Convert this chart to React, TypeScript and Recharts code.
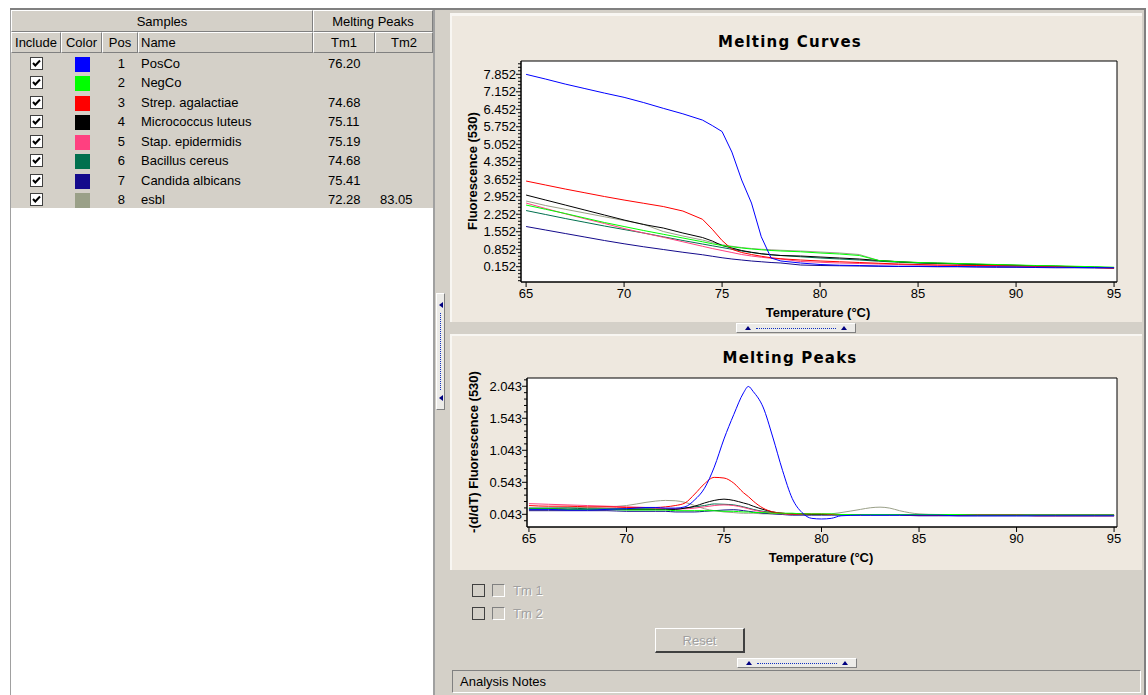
import React from "react";
import { LineChart, Line, XAxis, YAxis, CartesianGrid, ReferenceArea } from "recharts";

// ── sample table ──
const SAMPLE_POS = [1, 2, 3, 4, 5, 6, 7, 8];
const SAMPLE_NAMES = ["PosCo", "NegCo", "Strep. agalactiae", "Micrococcus luteus", "Stap. epidermidis", "Bacillus cereus", "Candida albicans", "esbl"];
const SAMPLE_COLORS = ["#0000ff", "#00ff00", "#ff0000", "#000000", "#ff4080", "#00704e", "#140a8c", "#9aa088"];
const TM1 = ["76.20", "", "74.68", "75.11", "75.19", "74.68", "75.41", "72.28"];
const TM2 = ["", "", "", "", "", "", "", "83.05"];

// ── melting curves (fluorescence 530) ──
const CURVE_TEMPS = [65, 66, 67, 68, 69, 70, 71, 72, 73, 74, 74.5, 75, 75.5, 76, 76.5, 77, 77.5, 78, 79, 80, 81, 82, 83, 84, 85, 86, 87, 88, 89, 90, 91, 92, 93, 94, 95];
const CURVE_POSCO = [7.85, 7.66, 7.46, 7.28, 7.10, 6.93, 6.72, 6.49, 6.27, 6.02, 5.80, 5.56, 4.74, 3.62, 2.70, 1.35, 0.50, 0.38, 0.30, 0.24, 0.21, 0.20, 0.18, 0.17, 0.17, 0.16, 0.16, 0.15, 0.15, 0.14, 0.13, 0.13, 0.12, 0.12, 0.11];
const CURVE_NEGCO = [2.62, 2.45, 2.28, 2.10, 1.92, 1.76, 1.60, 1.45, 1.30, 1.15, 1.07, 1.00, 0.95, 0.90, 0.86, 0.83, 0.80, 0.78, 0.75, 0.70, 0.66, 0.60, 0.40, 0.35, 0.32, 0.30, 0.28, 0.26, 0.24, 0.22, 0.20, 0.19, 0.17, 0.15, 0.13];
const CURVE_STREP = [3.58, 3.42, 3.26, 3.11, 2.96, 2.82, 2.69, 2.56, 2.38, 2.05, 1.65, 1.20, 0.85, 0.72, 0.64, 0.57, 0.51, 0.47, 0.42, 0.38, 0.35, 0.32, 0.29, 0.26, 0.24, 0.22, 0.21, 0.20, 0.19, 0.18, 0.17, 0.16, 0.14, 0.12, 0.10];
const CURVE_MICRO = [3.02, 2.82, 2.62, 2.42, 2.22, 2.02, 1.84, 1.70, 1.50, 1.32, 1.18, 1.00, 0.90, 0.80, 0.73, 0.67, 0.63, 0.60, 0.58, 0.54, 0.50, 0.46, 0.40, 0.35, 0.31, 0.29, 0.27, 0.25, 0.23, 0.21, 0.19, 0.17, 0.15, 0.13, 0.11];
const CURVE_STAP = [2.70, 2.48, 2.27, 2.07, 1.88, 1.68, 1.50, 1.33, 1.15, 0.97, 0.88, 0.80, 0.72, 0.64, 0.58, 0.53, 0.49, 0.46, 0.36, 0.33, 0.30, 0.28, 0.26, 0.24, 0.22, 0.21, 0.20, 0.19, 0.18, 0.17, 0.16, 0.15, 0.13, 0.12, 0.10];
const CURVE_BACIL = [2.40, 2.24, 2.08, 1.93, 1.78, 1.64, 1.50, 1.35, 1.20, 1.06, 0.99, 0.92, 0.85, 0.78, 0.72, 0.67, 0.63, 0.60, 0.55, 0.50, 0.46, 0.42, 0.37, 0.33, 0.30, 0.28, 0.26, 0.24, 0.22, 0.20, 0.19, 0.17, 0.15, 0.13, 0.11];
const CURVE_CANDI = [1.76, 1.62, 1.48, 1.34, 1.20, 1.07, 0.95, 0.84, 0.73, 0.63, 0.57, 0.51, 0.46, 0.42, 0.38, 0.35, 0.32, 0.30, 0.22, 0.20, 0.19, 0.18, 0.17, 0.16, 0.16, 0.15, 0.15, 0.14, 0.13, 0.13, 0.12, 0.11, 0.11, 0.10, 0.09];
const CURVE_ESBL = [2.78, 2.60, 2.45, 2.30, 2.15, 2.00, 1.85, 1.56, 1.38, 1.22, 1.12, 1.03, 0.97, 0.92, 0.88, 0.85, 0.83, 0.81, 0.78, 0.74, 0.70, 0.64, 0.40, 0.36, 0.32, 0.30, 0.28, 0.22, 0.20, 0.19, 0.18, 0.17, 0.16, 0.14, 0.12];

// ── melting peaks (-d/dT) ──
const PEAK_TEMPS = [65, 66, 67, 68, 69, 70, 71, 71.5, 72, 72.5, 73, 73.5, 74, 74.5, 75, 75.5, 76, 76.25, 76.5, 77, 77.5, 78, 78.5, 79, 79.5, 80, 80.5, 81, 82, 82.5, 83, 83.5, 84, 85, 86, 87, 88, 89, 90, 91, 92, 93, 94, 95];
const PEAK_POSCO = [0.12, 0.12, 0.11, 0.11, 0.12, 0.13, 0.15, 0.15, 0.14, 0.14, 0.16, 0.27, 0.45, 0.78, 1.22, 1.60, 1.94, 2.04, 1.96, 1.72, 1.25, 0.73, 0.29, 0.07, -0.02, -0.03, -0.02, 0.02, 0.03, 0.03, 0.03, 0.03, 0.03, 0.03, 0.03, 0.02, 0.02, 0.02, 0.02, 0.02, 0.02, 0.02, 0.02, 0.02];
const PEAK_NEGCO = [0.13, 0.13, 0.12, 0.12, 0.12, 0.11, 0.11, 0.11, 0.11, 0.10, 0.10, 0.10, 0.10, 0.10, 0.09, 0.09, 0.08, 0.08, 0.07, 0.07, 0.06, 0.06, 0.06, 0.05, 0.05, 0.05, 0.05, 0.04, 0.04, 0.04, 0.04, 0.04, 0.04, 0.04, 0.04, 0.04, 0.03, 0.03, 0.03, 0.03, 0.03, 0.03, 0.03, 0.03];
const PEAK_STREP = [0.18, 0.17, 0.17, 0.16, 0.16, 0.15, 0.15, 0.15, 0.16, 0.18, 0.22, 0.36, 0.52, 0.62, 0.61, 0.53, 0.38, 0.32, 0.25, 0.14, 0.08, 0.06, 0.05, 0.05, 0.05, 0.05, 0.04, 0.04, 0.04, 0.04, 0.04, 0.04, 0.04, 0.03, 0.03, 0.03, 0.03, 0.03, 0.03, 0.02, 0.02, 0.02, 0.02, 0.02];
const PEAK_MICRO = [0.13, 0.13, 0.12, 0.12, 0.12, 0.12, 0.12, 0.12, 0.12, 0.12, 0.14, 0.17, 0.22, 0.26, 0.28, 0.26, 0.22, 0.20, 0.17, 0.12, 0.08, 0.06, 0.05, 0.05, 0.04, 0.04, 0.04, 0.04, 0.04, 0.04, 0.04, 0.04, 0.04, 0.03, 0.03, 0.03, 0.03, 0.03, 0.03, 0.03, 0.03, 0.03, 0.03, 0.03];
const PEAK_STAP = [0.21, 0.20, 0.19, 0.18, 0.17, 0.16, 0.15, 0.14, 0.13, 0.13, 0.13, 0.14, 0.16, 0.18, 0.19, 0.18, 0.15, 0.13, 0.11, 0.08, 0.06, 0.05, 0.04, 0.04, 0.04, 0.04, 0.04, 0.04, 0.04, 0.04, 0.04, 0.04, 0.04, 0.03, 0.03, 0.03, 0.03, 0.03, 0.03, 0.03, 0.03, 0.03, 0.03, 0.03];
const PEAK_BACIL = [0.14, 0.14, 0.14, 0.13, 0.13, 0.13, 0.13, 0.13, 0.13, 0.13, 0.14, 0.16, 0.18, 0.205, 0.20, 0.19, 0.16, 0.14, 0.12, 0.09, 0.07, 0.05, 0.05, 0.04, 0.04, 0.04, 0.04, 0.04, 0.04, 0.04, 0.04, 0.04, 0.04, 0.03, 0.03, 0.03, 0.03, 0.03, 0.03, 0.03, 0.03, 0.03, 0.03, 0.03];
const PEAK_CANDI = [0.10, 0.10, 0.10, 0.10, 0.10, 0.09, 0.09, 0.09, 0.09, 0.08, 0.08, 0.08, 0.09, 0.10, 0.11, 0.115, 0.10, 0.09, 0.08, 0.06, 0.05, 0.04, 0.03, 0.03, 0.03, 0.03, 0.03, 0.03, 0.03, 0.03, 0.03, 0.03, 0.03, 0.02, 0.02, 0.02, 0.02, 0.02, 0.02, 0.02, 0.02, 0.02, 0.02, 0.02];
const PEAK_ESBL = [0.14, 0.14, 0.15, 0.15, 0.16, 0.18, 0.23, 0.25, 0.26, 0.255, 0.23, 0.18, 0.13, 0.10, 0.08, 0.07, 0.06, 0.06, 0.06, 0.05, 0.05, 0.05, 0.05, 0.05, 0.04, 0.04, 0.05, 0.07, 0.12, 0.145, 0.155, 0.14, 0.10, 0.05, 0.04, 0.04, 0.03, 0.03, 0.03, 0.03, 0.03, 0.03, 0.03, 0.03];

const X_TICKS = [65, 70, 75, 80, 85, 90, 95];
const CURVE_Y_TICKS = [0.152, 0.852, 1.552, 2.252, 2.952, 3.652, 4.352, 5.052, 5.752, 6.452, 7.152, 7.852];
const PEAK_Y_TICKS = [0.043, 0.543, 1.043, 1.543, 2.043];

const CURVE_SERIES = [CURVE_POSCO, CURVE_NEGCO, CURVE_STREP, CURVE_MICRO, CURVE_STAP, CURVE_BACIL, CURVE_CANDI, CURVE_ESBL];
const PEAK_SERIES = [PEAK_POSCO, PEAK_NEGCO, PEAK_STREP, PEAK_MICRO, PEAK_STAP, PEAK_BACIL, PEAK_CANDI, PEAK_ESBL];

const curveRows = CURVE_TEMPS.map((t, i) => {
  const row: Record<string, number> = { t };
  CURVE_SERIES.forEach((s, k) => (row[`s${k}`] = s[i]));
  return row;
});
const peakRows = PEAK_TEMPS.map((t, i) => {
  const row: Record<string, number> = { t };
  PEAK_SERIES.forEach((s, k) => (row[`s${k}`] = s[i]));
  return row;
});

const FONT = "'Liberation Sans', Arial, sans-serif";
const TITLE_FONT = "'DejaVu Sans', Verdana, sans-serif";
const UI_GREY = "#d4d0c8";
const BEIGE = "#eee8df";

const raised = {
  borderTop: "1px solid #fff",
  borderLeft: "1px solid #fff",
  borderRight: "1px solid #808080",
  borderBottom: "1px solid #808080",
};

// major ticks plus minor subdivisions inside the domain (axis decoration only)
function withMinor(majors: number[], sub: number, lo: number, hi: number) {
  const step = (majors[1] - majors[0]) / sub;
  let v = majors[0];
  while (v - step >= lo) v -= step;
  const out: number[] = [];
  for (; v <= hi + 1e-9; v += step) out.push(Math.round(v * 10000) / 10000);
  return out;
}

function YTick(props: any) {
  const { x, y, payload, majors } = props;
  const major = majors.some((m: number) => Math.abs(m - payload.value) < 1e-4);
  return (
    <g>
      <line x1={x - (major ? 5 : 3)} x2={x} y1={y} y2={y} stroke="#000" />
      {major && (
        <text x={x - 5} y={y} dy="0.36em" textAnchor="end" fill="#000" fontSize={13} fontFamily={FONT}>
          {payload.value.toFixed(3)}
        </text>
      )}
    </g>
  );
}

interface ChartProps {
  rows: Record<string, number>[];
  top: number;
  height: number;
  marginTop: number;
  marginLeft: number;
  xDomain: [number, number];
  yDomain: [number, number];
  yMajors: number[];
  ySub: number;
  curve: "linear" | "monotone";
}

function MeltChart({ rows, top, height, marginTop, marginLeft, xDomain, yDomain, yMajors, ySub, curve }: ChartProps) {
  const yTicks = withMinor(yMajors, ySub, yDomain[0], yDomain[1]);
  const order = [7, 6, 5, 4, 3, 2, 1, 0];
  return (
    <div style={{ position: "absolute", left: 450, top }}>
      <LineChart width={687} height={height} data={rows} margin={{ top: marginTop, right: 20, bottom: 5, left: marginLeft }}>
        <CartesianGrid horizontal={false} vertical={false} fill="#fff" stroke="none" />
        <XAxis
          dataKey="t" type="number" domain={xDomain} ticks={X_TICKS} allowDataOverflow interval={0}
          height={30} tickSize={5} tickMargin={2} axisLine={{ stroke: "#000" }} tickLine={{ stroke: "#000" }}
          tick={{ fill: "#000", fontSize: 13, fontFamily: FONT }}
        />
        <YAxis
          type="number" domain={yDomain} ticks={yTicks} allowDataOverflow interval={0}
          width={60} tickSize={0} tickMargin={0} tickLine={false} axisLine={{ stroke: "#000" }}
          tick={<YTick majors={yMajors} />}
        />
        {order.map((k) => (
          <Line
            key={k} dataKey={`s${k}`} type={curve} stroke={SAMPLE_COLORS[k]} strokeWidth={1}
            dot={false} activeDot={false} isAnimationActive={false}
          />
        ))}
        {/* plot frame */}
        <ReferenceArea
          x1={xDomain[0]} x2={xDomain[1]} y1={yDomain[0]} y2={yDomain[1]}
          fill="none" fillOpacity={0} stroke="#000" strokeWidth={1} ifOverflow="visible"
        />
      </LineChart>
    </div>
  );
}

function Cell({ left, top, width, height, text, alignLeft }: any) {
  return (
    <div
      style={{
        position: "absolute", left, top, width, height, boxSizing: "border-box", ...raised,
        display: "flex", alignItems: "center", justifyContent: alignLeft ? "flex-start" : "center",
        paddingLeft: alignLeft ? 2 : 0, fontSize: 13,
      }}
    >
      {text}
    </div>
  );
}

function Check({ left, top }: { left: number; top: number }) {
  return (
    <svg style={{ position: "absolute", left, top }} width={13} height={13}>
      <rect x={0.5} y={0.5} width={12} height={12} fill="#fff" stroke="#404040" />
      <path d="M3 6 L5.3 8.5 L10 3.5" fill="none" stroke="#000" strokeWidth={2} />
    </svg>
  );
}

function Tri({ dir }: { dir: "up" | "left" }) {
  const s = dir === "up"
    ? { borderLeft: "3px solid transparent", borderRight: "3px solid transparent", borderBottom: "4px solid #000080" }
    : { borderTop: "3px solid transparent", borderBottom: "3px solid transparent", borderRight: "4px solid #000080" };
  return <div style={{ width: 0, height: 0, ...s }} />;
}

function HHandle({ left, top }: { left: number; top: number }) {
  return (
    <div
      style={{
        position: "absolute", left, top, width: 120, height: 10, boxSizing: "border-box", ...raised,
        background: "#ecebe8", display: "flex", alignItems: "center", padding: "0 8px", gap: 5,
      }}
    >
      <Tri dir="up" />
      <div style={{ flex: 1, borderTop: "1px dotted #1030c0" }} />
      <Tri dir="up" />
    </div>
  );
}

function VHandle({ left, top }: { left: number; top: number }) {
  return (
    <div
      style={{
        position: "absolute", left, top, width: 9, height: 117, boxSizing: "border-box", ...raised,
        background: "#ecebe8", display: "flex", flexDirection: "column", alignItems: "center", padding: "8px 0", gap: 5,
      }}
    >
      <Tri dir="left" />
      <div style={{ flex: 1, borderLeft: "1px dotted #1030c0" }} />
      <Tri dir="left" />
    </div>
  );
}

function RotLabel({ cx, cy, text }: { cx: number; cy: number; text: string }) {
  return (
    <div
      style={{
        position: "absolute", left: cx, top: cy, transform: "translate(-50%, -50%) rotate(-90deg)",
        whiteSpace: "nowrap", fontWeight: "bold", fontSize: 13, fontFamily: FONT,
      }}
    >
      {text}
    </div>
  );
}

function CenterText({ cx, cy, text, title }: { cx: number; cy: number; text: string; title?: boolean }) {
  return (
    <div
      style={{
        position: "absolute", left: cx, top: cy, transform: "translate(-50%, -50%)", whiteSpace: "nowrap",
        fontWeight: "bold", fontSize: title ? 15 : 13, letterSpacing: title ? 1.2 : 0,
        fontFamily: title ? TITLE_FONT : FONT,
      }}
    >
      {text}
    </div>
  );
}

const disabledText = { color: "#a0a0a0", textShadow: "1px 1px 0 #fff", fontSize: 13 };

export default function App() {
  return (
    <div style={{ position: "absolute", left: 0, top: 0, width: 1148, height: 695, background: "#fff", overflow: "hidden", fontFamily: FONT, color: "#000" }}>
      {/* frame */}
      <div style={{ position: "absolute", left: 10, top: 8, width: 1136, height: 2, background: "#808080" }} />
      <div style={{ position: "absolute", left: 10, top: 10, width: 1, height: 685, background: "#a0a0a0" }} />
      <div style={{ position: "absolute", left: 433, top: 10, width: 2, height: 685, background: "#a0a0a0" }} />

      {/* samples table */}
      <div style={{ position: "absolute", left: 11, top: 10, width: 422, height: 198, background: UI_GREY }} />
      <Cell left={11} top={10} width={302} height={22} text="Samples" />
      <Cell left={313} top={10} width={120} height={22} text="Melting Peaks" />
      <Cell left={11} top={32} width={50} height={21} text="Include" />
      <Cell left={61} top={32} width={41} height={21} text="Color" />
      <Cell left={102} top={32} width={36} height={21} text="Pos" />
      <Cell left={138} top={32} width={175} height={21} text="Name" alignLeft />
      <Cell left={313} top={32} width={62} height={21} text="Tm1" />
      <Cell left={375} top={32} width={58} height={21} text="Tm2" />
      {SAMPLE_NAMES.map((name, i) => {
        const cy = 64 + i * 19.43;
        return (
          <React.Fragment key={name}>
            <Check left={30} top={cy - 7} />
            <div style={{ position: "absolute", left: 75, top: cy - 7, width: 15, height: 15, background: SAMPLE_COLORS[i] }} />
            <div style={{ position: "absolute", left: 100, top: cy - 9, width: 25, height: 18, lineHeight: "18px", textAlign: "right", fontSize: 13 }}>{SAMPLE_POS[i]}</div>
            <div style={{ position: "absolute", left: 141, top: cy - 9, height: 18, lineHeight: "18px", fontSize: 13, whiteSpace: "nowrap" }}>{name}</div>
            <div style={{ position: "absolute", left: 328, top: cy - 9, height: 18, lineHeight: "18px", fontSize: 13 }}>{TM1[i]}</div>
            <div style={{ position: "absolute", left: 380, top: cy - 9, height: 18, lineHeight: "18px", fontSize: 13 }}>{TM2[i]}</div>
          </React.Fragment>
        );
      })}

      {/* splitter */}
      <div style={{ position: "absolute", left: 435, top: 10, width: 12, height: 685, background: UI_GREY }} />
      <VHandle left={436} top={293} />

      {/* right side */}
      <div style={{ position: "absolute", left: 447, top: 10, width: 697, height: 685, background: UI_GREY }} />
      <div style={{ position: "absolute", left: 1144, top: 10, width: 2, height: 685, background: "#808080" }} />
      <div style={{ position: "absolute", left: 450, top: 13, width: 692, height: 309, boxSizing: "border-box", borderTop: "3px solid #f8f6f2", borderLeft: "2px solid #f8f6f2", background: BEIGE }} />
      <div style={{ position: "absolute", left: 450, top: 334, width: 692, height: 236, boxSizing: "border-box", borderTop: "2px solid #f8f6f2", borderLeft: "2px solid #f8f6f2", background: BEIGE }} />
      <HHandle left={736} top={323} />

      {/* melting curves */}
      <CenterText cx={790} cy={42} text="Melting Curves" title />
      <MeltChart
        rows={curveRows} top={30} height={287} marginTop={31} marginLeft={11}
        xDomain={[64.74, 95.15]} yDomain={[-0.46, 8.384]} yMajors={CURVE_Y_TICKS} ySub={5} curve="linear"
      />
      <RotLabel cx={472} cy={171} text="Fluorescence (530)" />
      <CenterText cx={818} cy={312} text="Temperature (°C)" />

      {/* melting peaks */}
      <CenterText cx={790} cy={358} text="Melting Peaks" title />
      <MeltChart
        rows={peakRows} top={340} height={222} marginTop={38} marginLeft={17}
        xDomain={[64.9, 95.15]} yDomain={[-0.155, 2.172]} yMajors={PEAK_Y_TICKS} ySub={5} curve="monotone"
      />
      <RotLabel cx={473} cy={452} text="-(d/dT) Fluorescence (530)" />
      <CenterText cx={821} cy={557} text="Temperature (°C)" />

      {/* Tm controls */}
      {["Tm 1", "Tm 2"].map((lbl, i) => (
        <React.Fragment key={lbl}>
          <div style={{ position: "absolute", left: 472, top: 584 + i * 23, width: 13, height: 13, boxSizing: "border-box", border: "1px solid #404040" }} />
          <div style={{ position: "absolute", left: 492, top: 584 + i * 23, width: 13, height: 13, boxSizing: "border-box", borderTop: "1px solid #808080", borderLeft: "1px solid #808080", borderRight: "1px solid #fff", borderBottom: "1px solid #fff" }} />
          <div style={{ position: "absolute", left: 513, top: 582 + i * 23, lineHeight: "17px", ...disabledText }}>{lbl}</div>
        </React.Fragment>
      ))}
      <div
        style={{
          position: "absolute", left: 655, top: 628, width: 90, height: 25, boxSizing: "border-box",
          borderTop: "1px solid #fff", borderLeft: "1px solid #fff", borderRight: "2px solid #404040", borderBottom: "2px solid #404040",
          display: "flex", alignItems: "center", justifyContent: "center", ...disabledText,
        }}
      >
        Reset
      </div>
      <HHandle left={737} top={658} />

      {/* analysis notes */}
      <div
        style={{
          position: "absolute", left: 452, top: 670, width: 689, height: 23, boxSizing: "border-box",
          borderTop: "1px solid #808080", borderLeft: "1px solid #808080", borderRight: "1px solid #fff", borderBottom: "1px solid #fff",
          background: UI_GREY, paddingLeft: 7, lineHeight: "21px", fontSize: 13,
        }}
      >
        Analysis Notes
      </div>
    </div>
  );
}
